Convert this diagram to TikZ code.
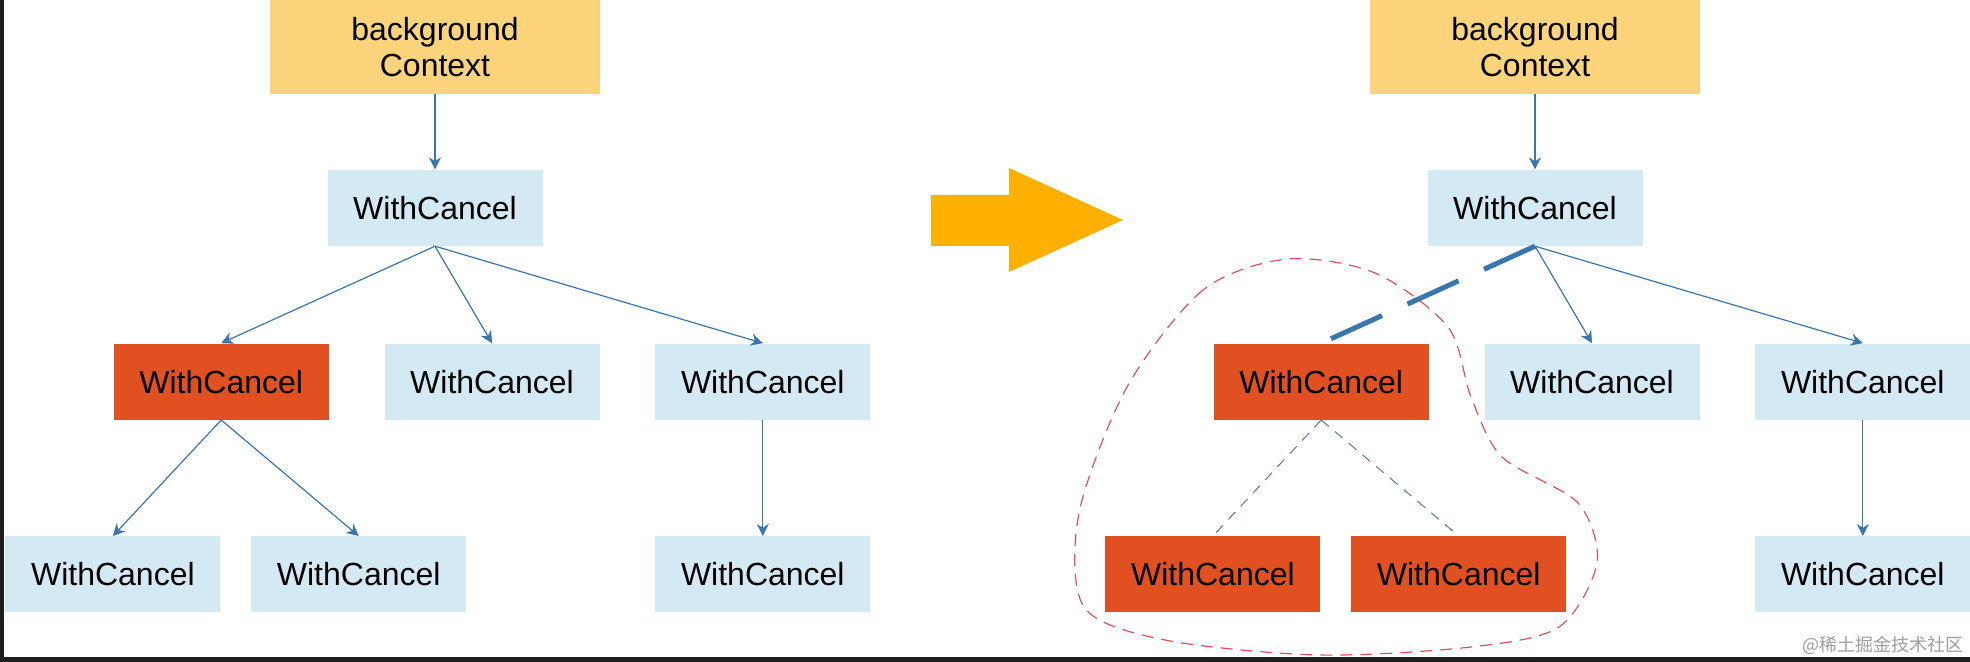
\documentclass[tikz,border=0pt]{standalone}
\usepackage{fontspec}
\setmainfont{Liberation Sans}
\newfontfamily\cjkfont{Noto Sans CJK SC}
\usetikzlibrary{positioning, arrows.meta}

\definecolor{ctxyellow}{HTML}{FDD47C}
\definecolor{wcblue}{HTML}{D3EAF5}
\definecolor{cancelred}{HTML}{E05020}
\definecolor{linkblue}{HTML}{3A76AE}
\definecolor{arrowgold}{HTML}{FFB000}
\definecolor{lassored}{HTML}{E0505E}
\definecolor{framedark}{HTML}{1E1E1E}

\begin{document}
\begin{tikzpicture}[x=0.5pt, y=-0.5pt, every node/.style={font=\fontsize{16pt}{18pt}\selectfont, inner sep=0pt}, align=center,
    ctxbox/.style={fill=ctxyellow, minimum width=165pt, minimum height=47pt},
    wcbox/.style={fill=wcblue, minimum width=107.5pt, minimum height=38pt},
    wckill/.style={wcbox, fill=cancelred},
    link/.style={draw=linkblue, line width=0.6pt, -{Stealth[length=6pt, width=6pt]}},
    cut/.style={draw=linkblue, line width=2.5pt, dash pattern=on 28pt off 14pt, shorten >=4pt},
    gone/.style={draw=linkblue!55!gray, line width=0.5pt, dash pattern=on 5pt off 4pt}]
    % Screenshot frame
    \fill[white] (0,0) rectangle (1970,662);
    \fill[framedark] (0,0) rectangle (4,662);
    \fill[framedark] (0,657) rectangle (1970,662);
    \useasboundingbox (0,0) rectangle (1970,662);
    % Left tree
    \node[ctxbox] (ctx) at (435,47) {background\\Context};
    \node[wcbox, below=37.5pt of ctx] (w0) {WithCancel};
    \node[wcbox, below=48.5pt of w0, xshift=28.5pt] (w2) {WithCancel};
    \node[wckill, left=27.5pt of w2] (w1) {WithCancel};
    \node[wcbox, right=27.5pt of w2] (w3) {WithCancel};
    \node[wcbox, below=58pt of w1, xshift=68.75pt] (w12) {WithCancel};
    \node[wcbox, left=15pt of w12] (w11) {WithCancel};
    \node[wcbox, below=58pt of w3] (w31) {WithCancel};
    \draw[link] (ctx) -- (w0);
    \draw[link] (w0.south) -- (w1.north);
    \draw[link] (w0.south) -- (w2.north);
    \draw[link] (w0.south) -- (w3.north);
    \draw[link] (w1.south) -- (w11.north);
    \draw[link] (w1.south) -- (w12.north);
    \draw[link] (w3) -- (w31);
    % Big arrow
    \fill[arrowgold] (931,195) -- (1009,195) -- (1009,168) -- (1123,220) -- (1009,272) -- (1009,246) -- (931,246) -- cycle;
    % Right tree
    \node[ctxbox] (ctxR) at (1535,47) {background\\Context};
    \node[wcbox, below=37.5pt of ctxR] (v0) {WithCancel};
    \node[wcbox, below=48.5pt of v0, xshift=28.5pt] (v2) {WithCancel};
    \node[wckill, left=27.5pt of v2] (v1) {WithCancel};
    \node[wcbox, right=27.5pt of v2] (v3) {WithCancel};
    \node[wckill, below=58pt of v1, xshift=68.75pt] (v12) {WithCancel};
    \node[wckill, left=15pt of v12] (v11) {WithCancel};
    \node[wcbox, below=58pt of v3] (v31) {WithCancel};
    \draw[link] (ctxR) -- (v0);
    \draw[link] (v0.south) -- (v2.north);
    \draw[link] (v0.south) -- (v3.north);
    \draw[link] (v3) -- (v31);
    \draw[gone] (v1.south) -- (v11.north);
    \draw[gone] (v1.south) -- (v12.north);
    % Cancelled subtree
    \draw[lassored, line width=0.6pt, dash pattern=on 6pt off 4pt] plot[smooth cycle] coordinates {(1287,259) (1203,290) (1127,387) (1079,513) (1084,607) (1165,640) (1318,655) (1471,647) (1559,627) (1597,563) (1578,503) (1502,457) (1471,397) (1448,327) (1375,273)};
    \draw[cut] (v0.south) -- (v1.north);
    % Watermark
    \node[text=gray!75, font=\cjkfont\fontsize{9pt}{10pt}\selectfont, anchor=east] (mark) at (1964,645) {@稀土掘金技术社区};
\end{tikzpicture}
\end{document}
